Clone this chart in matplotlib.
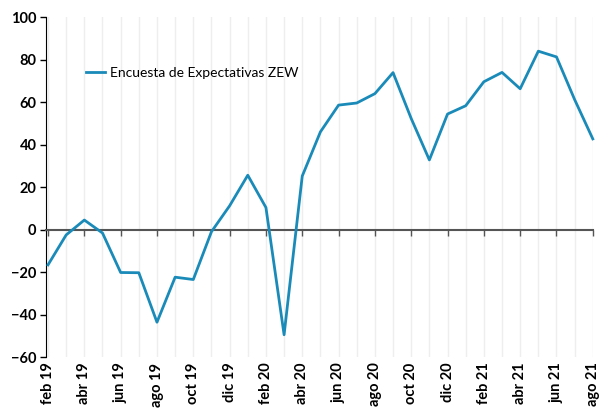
import matplotlib.pyplot as plt

meses = ['feb 19', 'mar 19', 'abr 19', 'may 19', 'jun 19', 'jul 19', 'ago 19', 'sep 19',
         'oct 19', 'nov 19', 'dic 19', 'ene 20', 'feb 20', 'mar 20', 'abr 20', 'may 20',
         'jun 20', 'jul 20', 'ago 20', 'sep 20', 'oct 20', 'nov 20', 'dic 20', 'ene 21',
         'feb 21', 'mar 21', 'abr 21', 'may 21', 'jun 21', 'jul 21', 'ago 21']
zew = [-16.6, -2.5, 4.5, -1.6, -20.2, -20.3, -43.6, -22.4, -23.5, -1.0, 11.2, 25.6,
       10.4, -49.5, 25.2, 46.0, 58.6, 59.6, 64.0, 73.9, 52.3, 32.8, 54.4, 58.3,
       69.6, 74.0, 66.3, 84.0, 81.3, 61.2, 42.7]
serie = 'Encuesta de Expectativas ZEW'

plt.rcParams['font.family'] = ['Lato', 'DejaVu Sans']

fig = plt.figure(figsize=(6, 4.09), dpi=100)
ax = fig.add_axes([0.077, 0.127, 0.911, 0.831])

x = list(range(len(meses)))
ax.plot(x, zew, color='#1a8bb9', lw=2, label=serie, clip_on=False, zorder=3)

ax.set_xlim(-0.1, 30)
ax.set_ylim(-60, 100)

# rejilla vertical mensual
for xi in x:
    ax.axvline(xi, color='#eeeeee', lw=1, zorder=0)

ax.set_yticks(range(-60, 101, 20))
ax.tick_params(axis='y', direction='out', length=4, width=1, labelsize=10.5, pad=3)
for lab in ax.get_yticklabels():
    lab.set_fontweight('bold')

for s in ['top', 'right']:
    ax.spines[s].set_visible(False)
ax.spines['left'].set_color('black')
ax.spines['bottom'].set_position(('data', 0))
ax.spines['bottom'].set_color('#555555')
ax.spines['bottom'].set_linewidth(1.5)

ticks = x[::2]
ax.set_xticks(ticks)
ax.tick_params(axis='x', direction='out', length=4, width=1, color='#555555', labelbottom=False)

sec = ax.secondary_xaxis('bottom')
sec.spines['bottom'].set_visible(False)
sec.set_xticks(ticks, [meses[i] for i in ticks])
sec.tick_params(axis='x', length=0, pad=4, labelsize=10.5)
for lab in sec.get_xticklabels():
    lab.set_rotation(90)
    lab.set_fontweight('bold')

ax.legend(loc='upper left', bbox_to_anchor=(0.05, 0.89), frameon=False,
          fontsize=10, handlelength=1.4, handletextpad=0.3)

fig.savefig('out.png', dpi=100)
